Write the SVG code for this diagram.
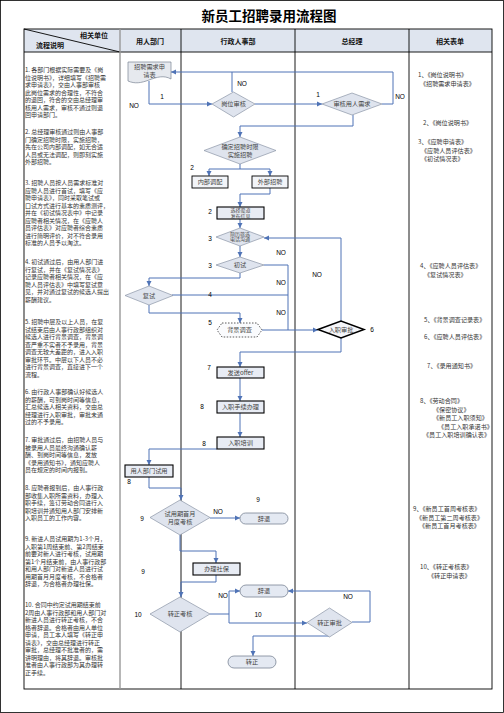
<svg xmlns="http://www.w3.org/2000/svg" width="504" height="713" viewBox="0 0 504 713">
<style>
.frame{fill:none;stroke:#000;stroke-width:0.8}
.grid{fill:none;stroke:#000;stroke-width:0.9}
.title{font-family:"Noto Sans CJK SC",sans-serif;font-size:13.5px;font-weight:bold;fill:#000}
.hd{font-family:"Noto Sans CJK SC",sans-serif;font-size:7px;font-weight:bold;fill:#111}
.desc{font-family:"Noto Sans CJK SC",sans-serif;font-size:6px;fill:#333}
.form{font-family:"Noto Sans CJK SC",sans-serif;font-size:6.1px;fill:#333}
.nt{font-family:"Noto Sans CJK SC",sans-serif;font-size:6.2px;fill:#444;text-anchor:middle}
.ns{font-family:"Noto Sans CJK SC",sans-serif;font-size:5px;fill:#444;text-anchor:middle}
.lb{font-family:"Liberation Sans",Arial,sans-serif;font-size:6.5px;fill:#000;text-anchor:middle}
.dia{fill:#dfe4ee;stroke:#8b95a6;stroke-width:0.7}
.box{fill:#e8ecf4;stroke:#000;stroke-width:1.1}
.term{fill:#e4e9f2;stroke:#7a8494;stroke-width:0.8}
.con{fill:none;stroke:#4f73b6;stroke-width:1}
</style>
<defs>
<marker id="ar" markerWidth="6" markerHeight="6" refX="5" refY="3" orient="auto" markerUnits="userSpaceOnUse">
<path d="M0,0.5 L5,3 L0,5.5 Z" fill="#4f73b6"/>
</marker>
</defs>
<rect class="frame" x="0.5" y="0.5" width="503" height="712"/>
<text class="title" x="269" y="21" text-anchor="middle">新员工招聘录用流程图</text>
<g id="table">
<rect x="24" y="29" width="468" height="23" fill="#dfe5ef"/>
<rect class="grid" x="24" y="29" width="468" height="660"/>
<line class="grid" x1="24" y1="52" x2="492" y2="52"/>
<line class="grid" x1="24" y1="29" x2="120" y2="52"/>
<line x1="120" y1="29" x2="120" y2="689" stroke="#999" stroke-width="1.4"/>
<line class="grid" x1="181" y1="29" x2="181" y2="689"/>
<line class="grid" x1="295" y1="29" x2="295" y2="689"/>
<line class="grid" x1="409" y1="29" x2="409" y2="689"/>
<text class="hd" x="94" y="37.5" text-anchor="middle">相关单位</text>
<text class="hd" x="50" y="47.5" text-anchor="middle">流程说明</text>
<text class="hd" x="150" y="43.5" text-anchor="middle">用人部门</text>
<text class="hd" x="238" y="43.5" text-anchor="middle">行政人事部</text>
<text class="hd" x="352" y="43.5" text-anchor="middle">总经理</text>
<text class="hd" x="450" y="43.5" text-anchor="middle">相关表单</text>
</g>
<g id="descriptions">
<text class="desc"><tspan x="25" y="72">1. 各部门根据实际需要及《岗</tspan><tspan x="25" y="79.5">位说明书》，详细填写《招聘需</tspan><tspan x="25" y="87">求申请表》，交由人事部审核</tspan><tspan x="25" y="94.5">此岗位需求的合理性，不符合</tspan><tspan x="25" y="102">的退回，符合的交由总经理审</tspan><tspan x="25" y="109.5">核用人需求，审核不通过则退</tspan><tspan x="25" y="117">回申请部门。</tspan></text>
<text class="desc"><tspan x="25" y="134">2. 总经理审核通过则由人事部</tspan><tspan x="25" y="141.5">门确定招聘时限，实施招聘，</tspan><tspan x="25" y="149">先在公司内部调配，如无合适</tspan><tspan x="25" y="156.5">人员或无法调配，则即刻实施</tspan><tspan x="25" y="164">外部招聘。</tspan></text>
<text class="desc"><tspan x="25" y="185">3. 招聘人员按人员需求标准对</tspan><tspan x="25" y="192.5">应聘人员进行首试，填写《应</tspan><tspan x="25" y="200">聘申请表》，同时采取笔试或</tspan><tspan x="25" y="207.5">口试方式进行基本的素质测评，</tspan><tspan x="25" y="215">并在《初试情况表中》中记录</tspan><tspan x="25" y="222.5">应聘者相关情况，在《应聘人</tspan><tspan x="25" y="230">员评估表》对应聘者综合素质</tspan><tspan x="25" y="237.5">进行简明评价，对不符合录用</tspan><tspan x="25" y="245">标准的人员予以淘汰。</tspan></text>
<text class="desc"><tspan x="25" y="264">4. 初试通过后，由用人部门进</tspan><tspan x="25" y="271.5">行复试，并在《复试情况表》</tspan><tspan x="25" y="279">记录应聘者相关情况，在《应</tspan><tspan x="25" y="286.5">聘人员评估表》中填写复试意</tspan><tspan x="25" y="294">见，并对通过复试的候选人提出</tspan><tspan x="25" y="301.5">薪酬建议。</tspan></text>
<text class="desc"><tspan x="25" y="324">5. 招聘中层及以上人员，在复</tspan><tspan x="25" y="331.5">试结束后由人事行政部组织对</tspan><tspan x="25" y="339">候选人进行背景调查，背景调</tspan><tspan x="25" y="346.5">查严重不实者不予录用，背景</tspan><tspan x="25" y="354">调查无较大差距的，进入入职</tspan><tspan x="25" y="361.5">审批环节。中层以下人员不必</tspan><tspan x="25" y="369">进行背景调查，直接进下一个</tspan><tspan x="25" y="376.5">流程。</tspan></text>
<text class="desc"><tspan x="25" y="394">6. 由行政人事部确认好候选人</tspan><tspan x="25" y="401.5">的薪酬，可到岗时间等信息，</tspan><tspan x="25" y="409">汇总候选人相关资料，交由总</tspan><tspan x="25" y="416.5">经理进行入职审批，审批未通</tspan><tspan x="25" y="424">过的不予录用。</tspan></text>
<text class="desc"><tspan x="25" y="442">7. 审批通过后，由招聘人员与</tspan><tspan x="25" y="449.5">被录用人员最终沟通确认薪</tspan><tspan x="25" y="457">酬、到岗时间等信息，发放</tspan><tspan x="25" y="464.5">《录用通知书》，通知应聘人</tspan><tspan x="25" y="472">员在规定的时间内报到。</tspan></text>
<text class="desc"><tspan x="25" y="490">8. 应聘者报到后，由人事行政</tspan><tspan x="25" y="497.5">部收集入职所需资料，办理入</tspan><tspan x="25" y="505">职手续，签订劳动合同进行入</tspan><tspan x="25" y="512.5">职培训并通知用人部门安排新</tspan><tspan x="25" y="520">入职员工的工作内容。</tspan></text>
<text class="desc"><tspan x="25" y="541">9. 新进人员试用期为1-3个月，</tspan><tspan x="25" y="548.5">入职第1周结束前、第2周结束</tspan><tspan x="25" y="556">前要对新人进行考核，试用期</tspan><tspan x="25" y="563.5">第1个月结束前，由人事行政部</tspan><tspan x="25" y="571">和用人部门对新进人员进行试</tspan><tspan x="25" y="578.5">用期首月月度考核，不合格者</tspan><tspan x="25" y="586">辞退，为合格者办理社保。</tspan></text>
<text class="desc"><tspan x="25" y="607">10. 合同中约定试用期结束前</tspan><tspan x="25" y="614.5">2周由人事行政部和用人部门对</tspan><tspan x="25" y="622">新进人员进行转正考核，不合</tspan><tspan x="25" y="629.5">格者辞退。合格者由用人单位</tspan><tspan x="25" y="637">申请，员工本人填写《转正申</tspan><tspan x="25" y="644.5">请表》，交由总经理进行转正</tspan><tspan x="25" y="652">审批，总经理不批准者的，需</tspan><tspan x="25" y="659.5">讲明理由，将其辞退。审核批</tspan><tspan x="25" y="667">准者由人事行政部为其办理转</tspan><tspan x="25" y="674.5">正手续。</tspan></text>
</g>
<g id="forms">
<text class="form"><tspan x="418" y="77">1、《岗位说明书》</tspan><tspan x="420" y="86">《招聘需求申请表》</tspan></text>
<text class="form" x="423" y="125">2、《岗位说明书》</text>
<text class="form"><tspan x="418" y="144">3、《应聘申请表》</tspan><tspan x="421" y="152.5">《应聘人员评估表》</tspan><tspan x="421" y="161">《初试情况表》</tspan></text>
<text class="form"><tspan x="420" y="268">4、《应聘人员评估表》</tspan><tspan x="424" y="277">《复试情况表》</tspan></text>
<text class="form" x="424" y="322">5、《背景调查记录表》</text>
<text class="form" x="424" y="339">6、《应聘人员评估表》</text>
<text class="form" x="427" y="368">7、《录用通知书》</text>
<text class="form"><tspan x="420" y="403">8、《劳动合同》</tspan><tspan x="433" y="411.5">《保密协议》</tspan><tspan x="433" y="420">《新员工入职须知》</tspan><tspan x="438" y="428.5">《员工入职承诺书》</tspan><tspan x="423" y="437">《员工入职培训确认表》</tspan></text>
<text class="form"><tspan x="413" y="511">9、《新员工首周考核表》</tspan><tspan x="416" y="519.5">《新员工第二周考核表》</tspan><tspan x="419" y="528">《新员工首月考核表》</tspan></text>
<text class="form"><tspan x="420" y="569">10、《转正考核表》</tspan><tspan x="428" y="578">《转正申请表》</tspan></text>
</g>
<g id="connectors">
<path class="con" d="M149,81 V104 H212" marker-end="url(#ar)"/>
<path class="con" d="M232,92 V72"/>
<path class="con" d="M382,104 H393 V72 H171" marker-end="url(#ar)"/>
<path class="con" d="M255,104 H322" marker-end="url(#ar)"/>
<path class="con" d="M353,115 V126 H240 V137" marker-end="url(#ar)"/>
<path class="con" d="M240,164 V169 M209,169 H270"/>
<path class="con" d="M209,169 V176" marker-end="url(#ar)"/>
<path class="con" d="M270,169 V176" marker-end="url(#ar)"/>
<path class="con" d="M270,188 V194 H240 V207" marker-end="url(#ar)"/>
<path class="con" d="M240,219 V228" marker-end="url(#ar)"/>
<path class="con" d="M240,246 V257" marker-end="url(#ar)"/>
<path class="con" d="M264,265 H288 V330 M172,295 H288"/>
<path class="con" d="M262,330 H318" marker-end="url(#ar)"/>
<path class="con" d="M341,321 V238 H264" marker-end="url(#ar)"/>
<path class="con" d="M240,273 V278 H149 V286" marker-end="url(#ar)"/>
<path class="con" d="M149,305 V313 H240 V323" marker-end="url(#ar)"/>
<path class="con" d="M341,338 V352 H240 V367" marker-end="url(#ar)"/>
<path class="con" d="M240,378 V401" marker-end="url(#ar)"/>
<path class="con" d="M240,413 V437" marker-end="url(#ar)"/>
<path class="con" d="M217,449 H149 V465" marker-end="url(#ar)"/>
<path class="con" d="M149,477 V488 H181 V500" marker-end="url(#ar)"/>
<path class="con" d="M210,518 H240" marker-end="url(#ar)"/>
<path class="con" d="M180,535 V551 H216 V563" marker-end="url(#ar)"/>
<path class="con" d="M216,575 V582 H181 V597" marker-end="url(#ar)"/>
<path class="con" d="M210,614 H229 M229,591 V623"/>
<path class="con" d="M229,591 H240" marker-end="url(#ar)"/>
<path class="con" d="M229,623 H307" marker-end="url(#ar)"/>
<path class="con" d="M352,622 H370 V591 H288" marker-end="url(#ar)"/>
<path class="con" d="M330,636 H253 V656" marker-end="url(#ar)"/>
</g>
<g id="labels">
<text class="lb" x="162" y="99">1</text>
<text class="lb" x="134" y="108">NO</text>
<text class="lb" x="242" y="86">NO</text>
<text class="lb" x="318" y="97">1</text>
<text class="lb" x="400" y="99">NO</text>
<text class="lb" x="192" y="170">2</text>
<text class="lb" x="210" y="214">2</text>
<text class="lb" x="210" y="241">3</text>
<text class="lb" x="210" y="268">3</text>
<text class="lb" x="210" y="297">4</text>
<text class="lb" x="210" y="325">5</text>
<text class="lb" x="372" y="332">6</text>
<text class="lb" x="281" y="255">NO</text>
<text class="lb" x="281" y="285">NO</text>
<text class="lb" x="281" y="315">NO</text>
<text class="lb" x="317" y="277">NO</text>
<text class="lb" x="209" y="370">7</text>
<text class="lb" x="202" y="409">8</text>
<text class="lb" x="204" y="446">8</text>
<text class="lb" x="129" y="484">8</text>
<text class="lb" x="142" y="521">9</text>
<text class="lb" x="218" y="514">NO</text>
<text class="lb" x="258" y="502">9</text>
<text class="lb" x="143" y="574">9</text>
<text class="lb" x="138" y="617">10</text>
<text class="lb" x="223" y="598">NO</text>
<text class="lb" x="258" y="617">10</text>
<text class="lb" x="348" y="599">NO</text>
</g>
<g id="n-doc"><path d="M128,62 H171 V79 C164,75 157,77 149,80 C141,83 135,84 128,81 Z" fill="#e6e9ee" stroke="#7a8494" stroke-width="0.7"/><text class="nt"><tspan x="149.5" y="69">招聘需求申</tspan><tspan x="149.5" y="76.5">请表</tspan></text></g>
<g id="n-gwsh"><path class="dia" d="M212,104 L233.5,92 L255,104 L233.5,117 Z"/><text class="nt" x="233.5" y="106.3">岗位审核</text></g>
<g id="n-shyr"><path class="dia" d="M322,104 L352,93 L382,104 L352,115 Z"/><text class="nt" x="352" y="106.3">审核用人需求</text></g>
<g id="n-qdzp"><path class="dia" d="M204,150.5 L240,137 L276,150.5 L240,164 Z"/><text class="nt"><tspan x="240" y="149">确定招聘时限</tspan><tspan x="240" y="156.5">实施招聘</tspan></text></g>
<g id="n-nbdp"><rect x="192" y="176" width="36" height="12" fill="#f2f4f8" stroke="#000" stroke-width="0.9"/><text class="nt" x="210" y="184.3">内部调配</text></g>
<g id="n-wbzp"><rect x="252" y="176" width="36" height="12" fill="#f2f4f8" stroke="#000" stroke-width="0.9"/><text class="nt" x="270" y="184.3">外部招聘</text></g>
<g id="n-xzqd"><rect class="box" x="217" y="207" width="47" height="12"/><text class="ns"><tspan x="240.5" y="212.3">选择渠道</tspan><tspan x="240.5" y="217.8">发布信息</tspan></text></g>
<g id="n-jlsx"><path class="dia" d="M216,237 L240,228 L264,237 L240,246 Z"/><text class="ns"><tspan x="240" y="235.5">简历筛选</tspan><tspan x="240" y="241.3">电话沟通</tspan></text></g>
<g id="n-cs"><path class="dia" d="M216,265 L240,257 L264,265 L240,273 Z"/><text class="nt" x="240" y="267.3">初试</text></g>
<g id="n-fs"><path class="dia" d="M125,295.5 L149,286 L173,295.5 L149,305 Z"/><text class="nt" x="149" y="297.8">复试</text></g>
<g id="n-bjdc"><path d="M222,323 H257 L262,330 L257,337 H222 L217,330 Z" fill="#fafbfd" stroke="#333" stroke-width="0.8" stroke-dasharray="1.5,1.5"/><text class="nt" x="239.5" y="332.3">背景调查</text></g>
<g id="n-rzsp"><path d="M318,329.5 L341,321 L364,329.5 L341,338 Z" fill="#f5f6f9" stroke="#000" stroke-width="1.5"/><text class="nt" x="341" y="331.8">入职审批</text></g>
<g id="n-fsoffer"><rect class="box" x="217" y="367" width="47" height="11"/><text class="nt" x="240.5" y="374.8">发送offer</text></g>
<g id="n-rzsx"><rect class="box" x="217" y="401" width="47" height="12"/><text class="nt" x="240.5" y="409.3">入职手续办理</text></g>
<g id="n-rzpx"><rect class="box" x="217" y="437" width="47" height="12"/><text class="nt" x="240.5" y="445.3">入职培训</text></g>
<g id="n-yrsy"><rect class="box" x="125" y="465" width="48" height="12"/><text class="nt" x="149" y="473.3">用人部门试用</text></g>
<g id="n-sykh"><path class="dia" d="M150,517.5 L180,500 L210,517.5 L180,535 Z"/><text class="nt"><tspan x="180" y="516">试用期首月</tspan><tspan x="180" y="523.5">月度考核</tspan></text></g>
<g id="n-ct1"><rect class="term" x="240" y="513" width="48" height="11" rx="5.5"/><text class="nt" x="264" y="520.8">辞退</text></g>
<g id="n-blsb"><rect class="box" x="193" y="563" width="47" height="12"/><text class="nt" x="216.5" y="571.3">办理社保</text></g>
<g id="n-zzkh"><path class="dia" d="M150,614 L180,597 L210,614 L180,632 Z"/><text class="nt" x="180" y="616.3">转正考核</text></g>
<g id="n-ct2"><rect class="term" x="240" y="585" width="48" height="12" rx="6"/><text class="nt" x="264" y="593.3">辞退</text></g>
<g id="n-zzsp"><path class="dia" d="M307,622.5 L329.5,608 L352,622.5 L329.5,637 Z"/><text class="nt" x="329.5" y="624.8">转正审批</text></g>
<g id="n-zz"><rect class="term" x="228" y="656" width="48" height="12" rx="6"/><text class="nt" x="252" y="664.3">转正</text></g>
</svg>
